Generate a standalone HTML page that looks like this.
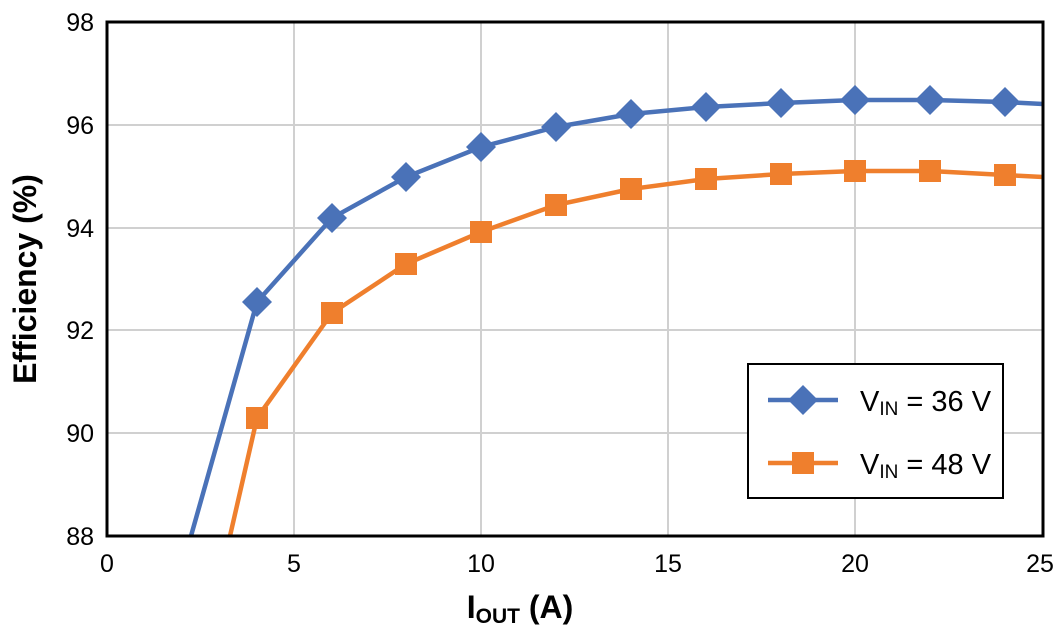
<!DOCTYPE html>
<html><head><style>body{margin:0;background:#fff}svg{display:block}text{font-family:"Liberation Sans Narrow","Liberation Sans",sans-serif}</style></head><body>
<svg width="1058" height="635" xmlns="http://www.w3.org/2000/svg">
<defs>
<clipPath id="c"><rect x="107" y="22" width="936" height="514"/></clipPath>
<polygon id="d" points="0,-15 15,0 0,15 -15,0"/>
<rect id="s" x="-11" y="-11" width="22" height="22"/>
</defs>
<g stroke="#d0d0d0" stroke-width="2">
<line x1="294" y1="22" x2="294" y2="536"/><line x1="481" y1="22" x2="481" y2="536"/><line x1="668" y1="22" x2="668" y2="536"/><line x1="855" y1="22" x2="855" y2="536"/>
<line x1="107" y1="125" x2="1043" y2="125"/><line x1="107" y1="228" x2="1043" y2="228"/><line x1="107" y1="330" x2="1043" y2="330"/><line x1="107" y1="433" x2="1043" y2="433"/>
</g>
<g clip-path="url(#c)" fill="none" stroke-width="4.5">
<polyline stroke="#4a72b8" points="191,536 257,302 332,218 406,177 481,147 556,127 631,114 706,107 781,103 855,100 930,100 1005,102 1043,104"/>
<polyline stroke="#ef7f2d" points="230,536 257,418 332,313 406,264 481,232 556,205 631,189 706,179 781,174 855,171 930,171 1005,175 1043,177"/>
</g>
<g fill="#4a72b8">
<use href="#d" x="257" y="302"/><use href="#d" x="332" y="218"/><use href="#d" x="406" y="177"/><use href="#d" x="481" y="147"/><use href="#d" x="556" y="127"/><use href="#d" x="631" y="114"/><use href="#d" x="706" y="107"/><use href="#d" x="781" y="103"/><use href="#d" x="855" y="100"/><use href="#d" x="930" y="100"/><use href="#d" x="1005" y="102"/>
</g>
<g fill="#ef7f2d">
<use href="#s" x="257" y="418"/><use href="#s" x="332" y="313"/><use href="#s" x="406" y="264"/><use href="#s" x="481" y="232"/><use href="#s" x="556" y="205"/><use href="#s" x="631" y="189"/><use href="#s" x="706" y="179"/><use href="#s" x="781" y="174"/><use href="#s" x="855" y="171"/><use href="#s" x="930" y="171"/><use href="#s" x="1005" y="175"/>
</g>
<rect x="107" y="22" width="936" height="514" fill="none" stroke="#000" stroke-width="3"/>
<rect x="748" y="364" width="255" height="134" fill="#fff" stroke="#000" stroke-width="2"/>
<line x1="768" y1="400" x2="838" y2="400" stroke="#4a72b8" stroke-width="4.5"/>
<use href="#d" x="803" y="400" fill="#4a72b8"/>
<line x1="768" y1="463" x2="838" y2="463" stroke="#ef7f2d" stroke-width="4.5"/>
<use href="#s" x="803" y="463" fill="#ef7f2d"/>
<text x="860" y="411" font-size="29">V<tspan font-size="19" dy="4">IN</tspan><tspan dy="-4"> = 36 V</tspan></text>
<text x="860" y="474" font-size="29">V<tspan font-size="19" dy="4">IN</tspan><tspan dy="-4"> = 48 V</tspan></text>
<g font-size="25" text-anchor="end">
<text x="94" y="31">98</text><text x="94" y="134">96</text><text x="94" y="237">94</text><text x="94" y="339">92</text><text x="94" y="442">90</text><text x="94" y="545">88</text>
</g>
<g font-size="25" text-anchor="middle">
<text x="107" y="572">0</text><text x="294" y="572">5</text><text x="481" y="572">10</text><text x="668" y="572">15</text><text x="855" y="572">20</text><text x="1040" y="572">25</text>
</g>
<text x="520" y="618" font-size="32" font-weight="bold" text-anchor="middle">I<tspan font-size="21" dy="5">OUT</tspan><tspan dy="-5"> (A)</tspan></text>
<text transform="translate(36,279) rotate(-90)" font-size="32" font-weight="bold" text-anchor="middle">Efficiency (%)</text>
</svg>
</body></html>
